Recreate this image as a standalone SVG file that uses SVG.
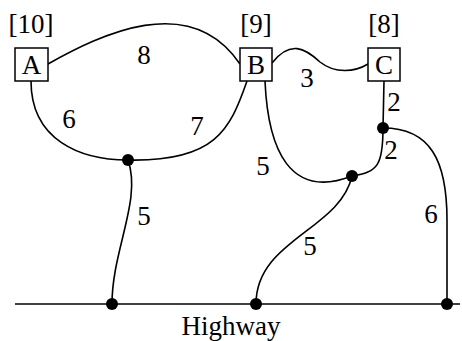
<svg xmlns="http://www.w3.org/2000/svg" width="462" height="341" viewBox="0 0 462 341">
<style>
text{font-family:"Liberation Serif","Times New Roman",serif;font-size:27px;fill:#000;text-anchor:middle}
.box{fill:#fff;stroke:#000;stroke-width:1.5}
.e{fill:none;stroke:#000;stroke-width:1.6}
.dot{fill:#000}
</style>
<rect width="462" height="341" fill="#fff"/>
<g id="connectors">
<line class="e" x1="15" y1="304" x2="460" y2="304"/>
<path class="e" d="M48,64 C100,35 190,-10 240,64"/>
<path class="e" d="M31,81 C31,140 80,160 128,160"/>
<path class="e" d="M247,81 C230,130 215,162 128,160"/>
<path class="e" d="M128,160 C142,200 112,250 112,304"/>
<path class="e" d="M272,63 C290,40 305,48 320,62 C335,74 355,72 368,64"/>
<path class="e" d="M384,81 L383,128"/>
<path class="e" d="M383,128 C383,165 378,172 352,176"/>
<path class="e" d="M265,81 C268,150 290,200 352,176"/>
<path class="e" d="M383,128 C430,128 447,160 447,220 L447,304"/>
<path class="e" d="M352,176 C340,230 256,240 256,304"/>
</g>
<g id="labels">
<text x="144" y="64">8</text>
<text x="69" y="128">6</text>
<text x="197" y="135">7</text>
<text x="144" y="225">5</text>
<text x="307" y="87">3</text>
<text x="394" y="111">2</text>
<text x="391" y="159">2</text>
<text x="263" y="175">5</text>
<text x="431" y="223">6</text>
<text x="310" y="255">5</text>
<text x="231" y="335">Highway</text>
</g>
<g id="A"><text x="31" y="33">[10]</text><rect class="box" x="15" y="48" width="33" height="33"/><text x="31.5" y="74">A</text></g>
<g id="B"><text x="256" y="33">[9]</text><rect class="box" x="240" y="48" width="32" height="33"/><text x="256" y="74">B</text></g>
<g id="C"><text x="384" y="33">[8]</text><rect class="box" x="368" y="48" width="32" height="33"/><text x="384" y="74">C</text></g>
<g id="J1"><circle class="dot" cx="128" cy="160" r="6"/></g>
<g id="J2"><circle class="dot" cx="352" cy="176" r="6"/></g>
<g id="J3"><circle class="dot" cx="383" cy="128" r="6"/></g>
<g id="H1"><circle class="dot" cx="112" cy="304" r="6"/></g>
<g id="H2"><circle class="dot" cx="256" cy="304" r="6"/></g>
<g id="H3"><circle class="dot" cx="447" cy="304" r="6"/></g>
</svg>
